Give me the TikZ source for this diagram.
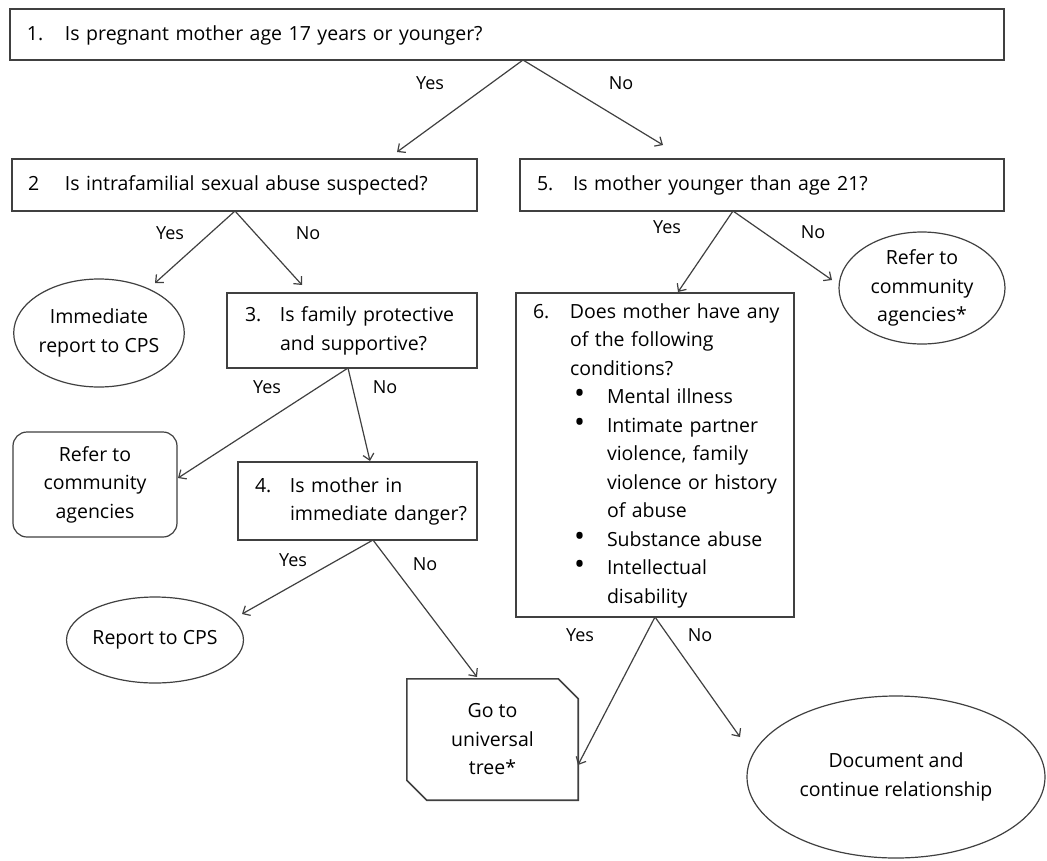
\documentclass[tikz,border=0pt]{standalone}
\usepackage{fontspec}
\setmainfont{Open Sans}
\usetikzlibrary{arrows.meta,shapes.geometric}
\definecolor{lc}{gray}{0.25}
\newcommand\ff{\fontsize{19.5pt}{28.5pt}\selectfont}
\newcommand\lf{\fontsize{18pt}{22pt}\selectfont}
\newcommand\bul{\hspace{4pt}\scalebox{1.5}{\textbullet}}
\tikzset{
  qbox/.style={draw=lc, line width=1.3pt, rectangle, inner ysep=0pt, align=left, font=\ff},
  oval/.style={draw=lc, line width=1.2pt, ellipse, inner sep=0pt, align=center, font=\ff},
  plain/.style={inner sep=0pt, align=center, font=\ff},
  arr/.style={draw=lc, line width=1.2pt, -{Straight Barb[length=6pt,width=11pt]}},
  lbl/.style={inner sep=0pt, font=\lf}
}
\begin{document}
\begin{tikzpicture}[x=1pt,y=-1pt]
\useasboundingbox (0,0) rectangle (1047,860);
\fill[white] (0,0) rectangle (1047,860);

% question boxes
\node[qbox, minimum width=994pt, minimum height=51pt, text width=960pt, inner xsep=17pt] (b1) at (507,34.5)
  {\begin{tabular}{@{}p{38pt}@{}l@{}}1.&Is pregnant mother age 17 years or younger?\end{tabular}};
\node[qbox, minimum width=465pt, minimum height=52pt, text width=433pt, inner xsep=16pt] (b2) at (244.5,185)
  {\begin{tabular}{@{}p{37pt}@{}l@{}}2&Is intrafamilial sexual abuse suspected?\end{tabular}};
\node[qbox, minimum width=484pt, minimum height=52pt, text width=450pt, inner xsep=17pt] (b5) at (762,185)
  {\begin{tabular}{@{}p{36pt}@{}l@{}}5.&Is mother younger than age 21?\end{tabular}};
\node[qbox, minimum width=250pt, minimum height=75pt, text width=214pt, inner xsep=18pt] (b3) at (352,330.5)
  {\begin{tabular}{@{}p{35pt}@{}l@{}}3.&Is family protective\\&and supportive?\end{tabular}};
\node[qbox, minimum width=239pt, minimum height=78pt, text width=205pt, inner xsep=17pt] (b4) at (357.5,501)
  {\begin{tabular}{@{}p{35pt}@{}l@{}}4.&Is mother in\\&immediate danger?\end{tabular}};
\node[qbox, minimum width=278pt, minimum height=324pt, text width=244pt, inner xsep=17pt] (b6) at (655,455)
  {\begin{tabular}{@{}p{37pt}@{}p{37pt}@{}l@{}}
   6.&\multicolumn{2}{@{}l@{}}{Does mother have any}\\
   &\multicolumn{2}{@{}l@{}}{of the following}\\
   &\multicolumn{2}{@{}l@{}}{conditions?}\\
   &\bul&Mental illness\\
   &\bul&Intimate partner\\
   &&violence, family\\
   &&violence or history\\
   &&of abuse\\
   &\bul&Substance abuse\\
   &\bul&Intellectual\\
   &&disability
  \end{tabular}};

% outcomes
\node[oval, minimum width=168pt, minimum height=108pt] (e1) at (99,333) {Immediate\\report to CPS};
\node[oval, minimum width=166pt, minimum height=112pt] (e5) at (922,288) {Refer to\\community\\agencies*};
\node[draw=lc, line width=1.2pt, rounded corners=14pt, minimum width=164pt, minimum height=105pt, plain] (r3) at (95,484.5) {Refer to\\community\\agencies};
\node[oval, minimum width=170pt, minimum height=86pt] (e4) at (155,640) {Report to CPS};
\node[oval, minimum width=298pt, minimum height=162pt] (e6) at (896,777) {Document and\\continue relationship};
\node[plain, minimum width=171pt, minimum height=121pt] (g) at (492.5,739.5) {Go to\\universal\\tree*};
\draw[draw=lc, line width=1.6pt] (g.north west) -- ([xshift=-20pt]g.north east) -- ([yshift=-20pt]g.north east)
  -- (g.south east) -- ([xshift=20pt]g.south west) -- ([yshift=20pt]g.south west) -- cycle;

% branch points and arrow ends
\coordinate (p1) at (523,60);
\coordinate (t1y) at (397,152);
\coordinate (t1n) at (663,145);
\coordinate (p2) at (235,211);
\coordinate (t2y) at (155,283);
\coordinate (t2n) at (302,285);
\coordinate (p5) at (733,211);
\coordinate (t5y) at (678,292);
\coordinate (t5n) at (832,280);
\coordinate (p3) at (348,368);
\coordinate (t3y) at (178,478);
\coordinate (t3n) at (370,461);
\coordinate (p4) at (373,540);
\coordinate (t4y) at (242,614);
\coordinate (t4n) at (477,677);
\coordinate (p6) at (655,617);
\coordinate (t6y) at (578,765);
\coordinate (t6n) at (740,737);

\draw[arr] (p1) -- (t1y);
\draw[arr] (p1) -- (t1n);
\draw[arr] (p2) -- (t2y);
\draw[arr] (p2) -- (t2n);
\draw[arr] (p5) -- (t5y);
\draw[arr] (p5) -- (t5n);
\draw[arr] (p3) -- (t3y);
\draw[arr] (p3) -- (t3n);
\draw[arr] (p4) -- (t4y);
\draw[arr] (p4) -- (t4n);
\draw[arr] (p6) -- (t6y);
\draw[arr] (p6) -- (t6n);

% labels
\node[lbl] (l1y) at (430,83) {Yes};
\node[lbl] (l1n) at (621,83) {No};
\node[lbl] (l2y) at (170,233) {Yes};
\node[lbl] (l2n) at (308,233) {No};
\node[lbl] (l5y) at (667,227) {Yes};
\node[lbl] (l5n) at (813,232) {No};
\node[lbl] (l3y) at (267,387) {Yes};
\node[lbl] (l3n) at (385,387) {No};
\node[lbl] (l4y) at (293,560) {Yes};
\node[lbl] (l4n) at (425,564) {No};
\node[lbl] (l6y) at (580,635) {Yes};
\node[lbl] (l6n) at (700,635) {No};
\end{tikzpicture}
\end{document}
